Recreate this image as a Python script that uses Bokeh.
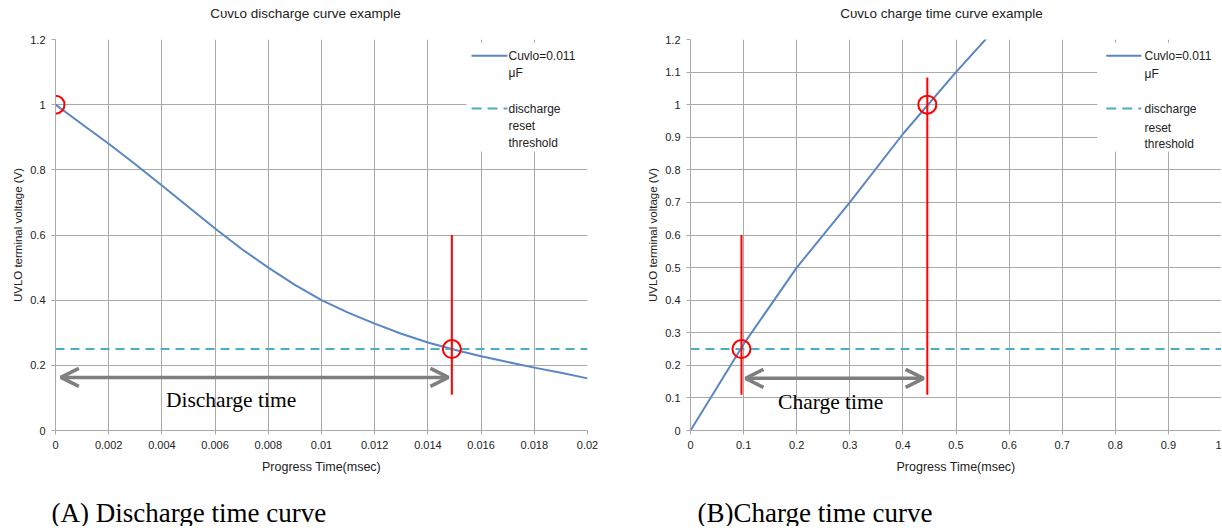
from bokeh.plotting import figure
from bokeh.layouts import row, column
from bokeh.models import Range1d, Label, BoxAnnotation, Arrow, OpenHead, FixedTicker
from bokeh.embed import file_html
from bokeh.resources import INLINE

# ---------------- data ----------------
dis_t = [0, 0.001, 0.002, 0.003, 0.004, 0.005, 0.006, 0.007, 0.008, 0.009, 0.010,
         0.011, 0.012, 0.013, 0.014, 0.015, 0.016, 0.017, 0.018, 0.019, 0.020]
dis_v = [1.0, 0.94, 0.88, 0.817, 0.752, 0.686, 0.62, 0.557, 0.50, 0.447, 0.40,
         0.362, 0.328, 0.297, 0.27, 0.248, 0.228, 0.21, 0.193, 0.177, 0.16]

chg_t = [0, 0.1, 0.2, 0.3, 0.4, 0.5, 0.6]
chg_v = [0, 0.265, 0.50, 0.70, 0.91, 1.10, 1.28]

threshold = 0.25

dis_xticks = [0, 0.002, 0.004, 0.006, 0.008, 0.010, 0.012, 0.014, 0.016, 0.018, 0.020]
dis_xlabels = ["0", "0.002", "0.004", "0.006", "0.008", "0.01", "0.012", "0.014", "0.016", "0.018", "0.02"]
dis_yticks = [0, 0.2, 0.4, 0.6, 0.8, 1.0, 1.2]
dis_ylabels = ["0", "0.2", "0.4", "0.6", "0.8", "1", "1.2"]

chg_xticks = [0, 0.1, 0.2, 0.3, 0.4, 0.5, 0.6, 0.7, 0.8, 0.9, 1.0]
chg_xlabels = ["0", "0.1", "0.2", "0.3", "0.4", "0.5", "0.6", "0.7", "0.8", "0.9", "1"]
chg_yticks = [0, 0.1, 0.2, 0.3, 0.4, 0.5, 0.6, 0.7, 0.8, 0.9, 1.0, 1.1, 1.2]
chg_ylabels = ["0", "0.1", "0.2", "0.3", "0.4", "0.5", "0.6", "0.7", "0.8", "0.9", "1", "1.1", "1.2"]

# marked points (time, voltage)
dis_marks_t = [0, 0.0149]
dis_marks_v = [1.0, 0.25]
chg_marks_t = [0.096, 0.446]
chg_marks_v = [0.25, 1.0]

dis_title = "C\u1d1c\u1d20\u029f\u1d0f discharge curve example"
chg_title = "C\u1d1c\u1d20\u029f\u1d0f charge time curve example"
dis_caption = "(A) Discharge time curve"
chg_caption = "(B)Charge time curve"
legend_series = ["Cuvlo=0.011", "\u03bcF"]
legend_thresh = ["discharge", "reset", "threshold"]

# ---------------- style ----------------
FONT = "Liberation Sans"
SERIF = "Liberation Serif"
GRID = "#aaaaaa"
TXT = "#222222"
BLUE = "#5a86c4"
AQUA = "#4bacc6"
GRAY = "#7f7f7f"
RED = "#ff0000"

W1, W2 = 623, 598
TOP_H = 26
MAIN_H = 454
CAP_H = 46


def strip(width, height):
    s = figure(width=width, height=height, x_range=Range1d(0, width), y_range=Range1d(0, height),
               output_backend="svg", toolbar_location=None, min_border=0,
               x_axis_type=None, y_axis_type=None)
    s.outline_line_color = None
    s.background_fill_color = "white"
    s.border_fill_color = "white"
    return s


def base_fig(width, left, right, xr, xticks, xlabels, yticks, ylabels):
    p = figure(width=width, height=MAIN_H, x_range=Range1d(*xr), y_range=Range1d(0, 1.2),
               output_backend="svg", toolbar_location=None,
               min_border_left=left, min_border_right=right,
               min_border_top=13, min_border_bottom=50)
    p.outline_line_color = None
    p.background_fill_color = "white"
    p.border_fill_color = "white"
    p.xaxis.ticker = FixedTicker(ticks=xticks)
    p.yaxis.ticker = FixedTicker(ticks=yticks)
    p.xaxis.major_label_overrides = {t: l for t, l in zip(xticks, xlabels)}
    p.yaxis.major_label_overrides = {t: l for t, l in zip(yticks, ylabels)}
    p.xgrid.ticker = FixedTicker(ticks=xticks)
    p.ygrid.ticker = FixedTicker(ticks=yticks)
    for g in (p.xgrid, p.ygrid):
        g.grid_line_color = GRID
        g.grid_line_width = 1
    for ax in (p.xaxis, p.yaxis):
        ax.axis_line_color = GRID
        ax.major_tick_line_color = GRID
        ax.major_tick_out = 4
        ax.major_tick_in = 0
        ax.minor_tick_line_color = None
        ax.major_label_text_font = FONT
        ax.major_label_text_font_size = "11px"
        ax.major_label_text_color = TXT
        ax.axis_label_text_font = FONT
        ax.axis_label_text_font_size = "12.5px"
        ax.axis_label_text_font_style = "normal"
        ax.axis_label_text_color = TXT
    p.xaxis.major_label_standoff = 6
    p.yaxis.major_label_standoff = 6
    p.xaxis.axis_label = "Progress Time(msec)"
    p.xaxis.axis_label_standoff = 8
    p.yaxis.axis_label = "UVLO terminal voltage (V)"
    p.yaxis.axis_label_standoff = 3
    p.yaxis.axis_label_text_font_size = "11.5px"
    return p


def add_legend(p, box, sample, text_x, rows_y):
    p.add_layout(BoxAnnotation(left=box[0], right=box[1], bottom=box[2], top=box[3],
                               fill_color="white", fill_alpha=1.0, line_color=None))
    p.segment(x0=[sample[0]], y0=[rows_y[0]], x1=[sample[1]], y1=[rows_y[0]],
              line_color=BLUE, line_width=2, level="overlay")
    p.segment(x0=[sample[0]], y0=[rows_y[2]], x1=[sample[1]], y1=[rows_y[2]],
              line_color=AQUA, line_width=2, line_dash="10 6", level="overlay")
    texts = legend_series + legend_thresh
    for t, y in zip(texts, rows_y):
        p.add_layout(Label(x=text_x, y=y, text=t, text_font=FONT, text_font_size="12px",
                           text_color=TXT, text_align="left", text_baseline="middle"))


def add_text(p, x, y, t, font, size, align="center", color=TXT):
    p.add_layout(Label(x=x, y=y, text=t, text_font=font, text_font_size=size,
                       text_color=color, text_align=align, text_baseline="middle"))


def add_arrow(p, x0, x1, y):
    p.add_layout(Arrow(start=OpenHead(size=18, line_color=GRAY, line_width=3.5),
                       end=OpenHead(size=18, line_color=GRAY, line_width=3.5),
                       x_start=x0, y_start=y, x_end=x1, y_end=y,
                       line_color=GRAY, line_width=3.5))


# ---------------- left chart ----------------
p1 = base_fig(W1, 55, 36, (0, 0.02), dis_xticks, dis_xlabels, dis_yticks, dis_ylabels)
p1.line(dis_t, dis_v, line_color=BLUE, line_width=2)
p1.line([0, 0.02], [threshold, threshold], line_color=AQUA, line_width=2, line_dash="9 6")
p1.segment(x0=[dis_marks_t[1]], y0=[0.11], x1=[dis_marks_t[1]], y1=[0.6], line_color=RED, line_width=2)
p1.scatter(dis_marks_t, dis_marks_v, marker="circle", size=18, fill_color=None,
           line_color=RED, line_width=2)
add_arrow(p1, 0.0002, 0.01477, 0.163)
add_text(p1, 0.0066, 0.095, "Discharge time", SERIF, "21.5px", color="black")
add_legend(p1, (0.01545, 0.02, 0.856, 1.19), (0.01564, 0.01699), 0.01703,
           [1.150, 1.098, 0.988, 0.933, 0.883])

t1 = strip(W1, TOP_H)
add_text(t1, 305, 13, dis_title, FONT, "13.5px")
c1 = strip(W1, CAP_H)
add_text(c1, 51, 14, dis_caption, SERIF, "27px", align="left", color="black")

# ---------------- right chart ----------------
p2 = base_fig(W2, 67, 0, (0, 1.0), chg_xticks, chg_xlabels, chg_yticks, chg_ylabels)
p2.line(chg_t, chg_v, line_color=BLUE, line_width=2)
p2.line([0, 1.0], [threshold, threshold], line_color=AQUA, line_width=2, line_dash="9 6")
p2.segment(x0=[chg_marks_t[0], chg_marks_t[1]], y0=[0.11, 0.11],
           x1=[chg_marks_t[0], chg_marks_t[1]], y1=[0.6, 1.083], line_color=RED, line_width=2)
p2.scatter(chg_marks_t, chg_marks_v, marker="circle", size=18, fill_color=None,
           line_color=RED, line_width=2)
add_arrow(p2, 0.1036, 0.439, 0.16)
add_text(p2, 0.264, 0.086, "Charge time", SERIF, "21.5px", color="black")
add_legend(p2, (0.766, 1.0, 0.856, 1.19), (0.783, 0.849), 0.855,
           [1.150, 1.095, 0.988, 0.929, 0.880])

t2 = strip(W2, TOP_H)
add_text(t2, 318, 13, chg_title, FONT, "13.5px")
c2 = strip(W2, CAP_H)
add_text(c2, 74, 14, chg_caption, SERIF, "27px", align="left", color="black")

layout = column(row(t1, t2), row(p1, p2), row(c1, c2))
open("out.html", "w").write(file_html(layout, INLINE))
